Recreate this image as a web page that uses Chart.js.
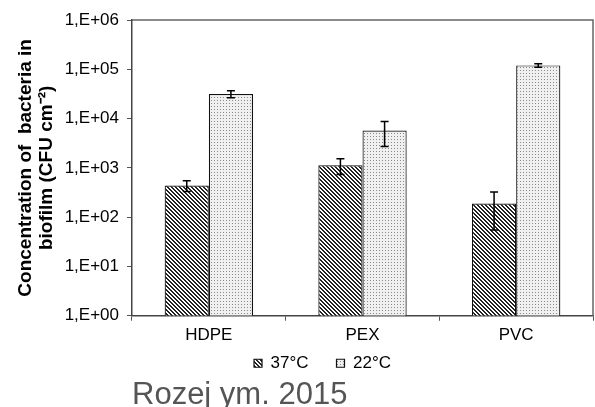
<!DOCTYPE html>
<html>
<head>
<meta charset="utf-8">
<script src="https://cdn.jsdelivr.net/npm/chart.js@4.4.1/dist/chart.umd.min.js"></script>
<style>
  body { margin: 0; background: #fff; }
  #chart { display: block; }
</style>
</head>
<body>
<canvas id="chart" width="595" height="407"></canvas>
<script>
// data (log scale, CFU cm-2)
var categories = ['HDPE', 'PEX', 'PVC'];
var seriesNames = ['37°C', '22°C'];
var values37 = [440, 1130, 190];
var errors37 = [110, 400, 135];
var values22 = [31500, 5700, 120000];
var errors22 = [5000, 3000, 10000];
var yTicks = [1, 10, 100, 1000, 10000, 100000, 1000000];
var yTickLabels = ['1,E+00', '1,E+01', '1,E+02', '1,E+03', '1,E+04', '1,E+05', '1,E+06'];

var FONT = 'Liberation Sans, Arial, sans-serif';

// fill patterns: diagonal hatch and fine dots
function makeHatch() {
  var c = document.createElement('canvas');
  c.width = 4; c.height = 4;
  var g = c.getContext('2d');
  g.fillStyle = '#fff';
  g.fillRect(0, 0, 4, 4);
  g.fillStyle = '#222';
  for (var y = 0; y < 4; y++) {
    for (var x = 0; x < 4; x++) {
      var d = ((x - y) % 4 + 4) % 4;
      if (d === 0 || d === 1) g.fillRect(x, y, 1, 1);
    }
  }
  return g.createPattern(c, 'repeat');
}
function makeDots() {
  var c = document.createElement('canvas');
  c.width = 3; c.height = 3;
  var g = c.getContext('2d');
  g.fillStyle = '#f0f0f0';
  g.fillRect(0, 0, 3, 3);
  g.fillStyle = '#8a8a8a';
  g.fillRect(1, 1, 1, 1);
  return g.createPattern(c, 'repeat');
}

var errorBars = {
  id: 'errorBars',
  afterDatasetsDraw: function(chart) {
    var ctx = chart.ctx;
    var yScale = chart.scales.y;
    var errs = [errors37, errors22];
    ctx.save();
    ctx.strokeStyle = '#000';
    ctx.lineWidth = 1.5;
    chart.data.datasets.forEach(function(ds, i) {
      var meta = chart.getDatasetMeta(i);
      meta.data.forEach(function(bar, j) {
        var v = ds.data[j], e = errs[i][j];
        var yTop = yScale.getPixelForValue(v + e);
        var yBot = yScale.getPixelForValue(v - e);
        ctx.beginPath();
        ctx.moveTo(bar.x, yTop); ctx.lineTo(bar.x, yBot);
        ctx.moveTo(bar.x - 4, yTop); ctx.lineTo(bar.x + 4, yTop);
        ctx.moveTo(bar.x - 4, yBot); ctx.lineTo(bar.x + 4, yBot);
        ctx.stroke();
      });
    });
    ctx.restore();
  }
};

var frame = {
  id: 'frame',
  afterLayout: function(chart) {
    // legend sits a bit right of centre and closer to the axis, title just under it
    var lg = chart.legend;
    lg.left += 26; lg.right += 26;
    lg.top -= 17; lg.bottom -= 17;
    var tb = chart.titleBlock;
    tb.top -= 7; tb.bottom -= 7;
  },
  afterDraw: function(chart) {
    var a = chart.chartArea, ctx = chart.ctx;
    ctx.save();
    ctx.strokeStyle = '#666';
    ctx.lineWidth = 1.5;
    ctx.beginPath();
    ctx.moveTo(a.left, a.top); ctx.lineTo(a.right, a.top); ctx.lineTo(a.right, a.bottom);
    ctx.stroke();
    ctx.restore();
  }
};

var ctx = document.getElementById('chart').getContext('2d');
new Chart(ctx, {
  type: 'bar',
  data: {
    labels: categories,
    datasets: [{
      label: seriesNames[0],
      data: values37,
      backgroundColor: makeHatch(),
      borderColor: '#111',
      borderWidth: 1.2,
      categoryPercentage: 0.575,
      barPercentage: 1
    }, {
      label: seriesNames[1],
      data: values22,
      backgroundColor: makeDots(),
      borderColor: '#111',
      borderWidth: 1.2,
      categoryPercentage: 0.575,
      barPercentage: 1
    }]
  },
  options: {
    responsive: false,
    animation: false,
    layout: { padding: { left: 0, top: 20, right: 2, bottom: 0.5 } },
    plugins: {
      tooltip: { enabled: false },
      legend: {
        position: 'bottom',
        labels: {
          boxWidth: 8,
          boxHeight: 8,
          padding: 28,
          color: '#000',
          font: { family: FONT, size: 17 }
        }
      },
      title: {
        display: true,
        text: 'Rozej ym. 2015',
        position: 'bottom',
        align: 'start',
        fullSize: false,
        color: '#555',
        padding: 0,
        font: { family: FONT, size: 31, weight: 'normal', lineHeight: 0.25 }
      }
    },
    scales: {
      x: {
        grid: { display: true, drawOnChartArea: false, tickLength: 5, color: '#555', lineWidth: 1 },
        border: { color: '#444', width: 1.5 },
        ticks: { color: '#000', padding: 4, font: { family: FONT, size: 17 } },
        afterFit: function(scale) { scale.height = 28; }
      },
      y: {
        type: 'logarithmic',
        min: 1,
        max: 1000000,
        grid: { display: true, drawOnChartArea: false, tickLength: 5, color: '#555', lineWidth: 1 },
        border: { color: '#444', width: 1.5 },
        afterBuildTicks: function(scale) {
          scale.ticks = yTicks.map(function(v) { return { value: v }; });
        },
        ticks: {
          color: '#000',
          padding: 8,
          font: { family: FONT, size: 17 },
          callback: function(value) {
            var k = yTicks.indexOf(value);
            return k >= 0 ? yTickLabels[k] : '';
          }
        },
        title: {
          display: true,
          text: ['Concentration of  bacteria in', 'biofilm (CFU cm\u207B\u00B2)'],
          color: '#000',
          padding: { top: 15, bottom: 0 },
          font: { family: FONT, size: 19, weight: 'bold', lineHeight: 1.1 }
        },
        afterFit: function(scale) { scale.width = 132; }
      }
    }
  },
  plugins: [errorBars, frame]
});
</script>
</body>
</html>
